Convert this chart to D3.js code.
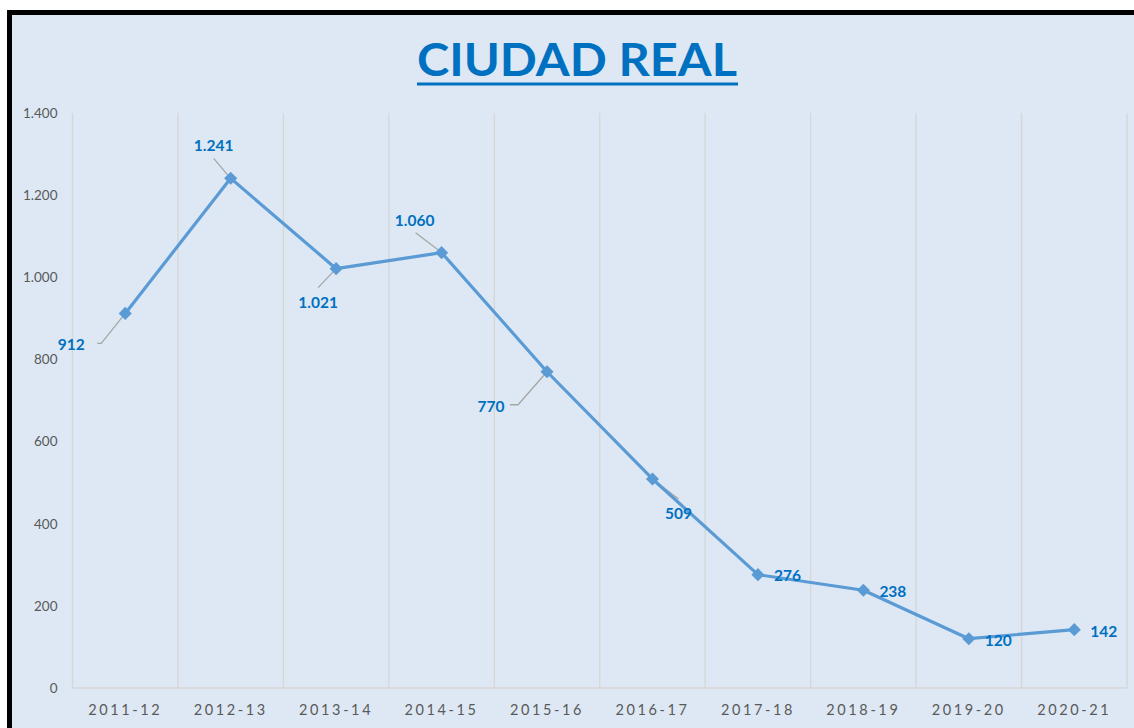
<!DOCTYPE html>
<html><head><meta charset="utf-8">
<script src="https://cdn.jsdelivr.net/npm/d3@7"></script>
<style>
html,body{margin:0;padding:0;background:#fff;}
svg{display:block;}
</style></head>
<body>
<svg id="chart" width="1134" height="728"></svg>
<script>
const categories = ["2011-12","2012-13","2013-14","2014-15","2015-16","2016-17","2017-18","2018-19","2019-20","2020-21"];
const values = [912,1241,1021,1060,770,509,276,238,120,142];
const yTicks = [0,200,400,600,800,1000,1200,1400];
const title = "CIUDAD REAL";

// label placement (style only): offset of label centre from point, and leader line flag
const labelOffsets = [
  {dx:-54, dy:31, anchor:"middle", leader:[[-28,30],[-24,30],[0,0]]},
  {dx:-17, dy:-33, anchor:"middle", leader:[[-17,-20],[-1,-1]]},
  {dx:-18, dy:34, anchor:"middle", leader:[[-18,19],[0,0]]},
  {dx:-27, dy:-32, anchor:"middle", leader:[[-26,-20],[-1,-1]]},
  {dx:-56, dy:35, anchor:"middle", leader:[[-37,33],[-29,33],[0,0]]},
  {dx:26, dy:35, anchor:"middle", leader:[[0,0],[26,20]]},
  {dx:16, dy:1, anchor:"start", leader:null},
  {dx:16, dy:1, anchor:"start", leader:null},
  {dx:16, dy:2, anchor:"start", leader:null},
  {dx:16, dy:2, anchor:"start", leader:null}
];

const svg = d3.select("#chart");
// frame
svg.append("rect").attr("x",9.5).attr("y",12.5).attr("width",1134).attr("height",730)
  .attr("fill","#dde8f4").attr("stroke","#000").attr("stroke-width",5);

const m = {left:72.5, right:1127, top:113, bottom:688};
const x = d3.scaleBand().domain(categories).range([m.left, m.right]);
const y = d3.scaleLinear().domain([0,1400]).range([m.bottom, m.top]);
const fmt = v => d3.format(",")(v).replace(/,/g,".");

// title
const t = svg.append("text").attr("x",577).attr("y",76).attr("text-anchor","middle")
  .attr("font-family","Lato, 'Open Sans', sans-serif").attr("font-weight","bold")
  .attr("font-size",45).attr("fill","#0070c0").attr("textLength",320).attr("lengthAdjust","spacingAndGlyphs")
  .text(title);
svg.append("rect").attr("x",417).attr("y",82.5).attr("width",321).attr("height",3).attr("fill","#0070c0");

// vertical gridlines at category boundaries
const bounds = categories.map(c => x(c)).concat([m.right]);
svg.append("g").selectAll("line").data(bounds).join("line")
  .attr("x1",d=>d).attr("x2",d=>d).attr("y1",m.top).attr("y2",m.bottom)
  .attr("stroke","#d6d6d6").attr("stroke-width",1.3);
// baseline
svg.append("line").attr("x1",m.left).attr("x2",m.right).attr("y1",m.bottom).attr("y2",m.bottom)
  .attr("stroke","#d6d6d6").attr("stroke-width",1.5);

// y axis
const yAxis = d3.axisLeft(y).tickValues(yTicks).tickFormat(fmt).tickSize(0).tickPadding(15);
const gy = svg.append("g").attr("transform",`translate(${m.left},0)`).call(yAxis);
gy.select(".domain").remove();
gy.selectAll("text").attr("font-family","Lato, 'Open Sans', sans-serif").attr("font-size",13.5).attr("fill","#595959");

// x axis
const xAxis = d3.axisBottom(x).tickSize(0).tickPadding(17);
const gx = svg.append("g").attr("transform",`translate(0,${m.bottom})`).call(xAxis);
gx.select(".domain").remove();
gx.selectAll("text").attr("font-family","Lato, 'Open Sans', sans-serif").attr("font-size",14.5)
  .attr("fill","#595959").attr("letter-spacing","2.6px");

const px = (d,i) => x(categories[i]) + x.bandwidth()/2;
const pts = values.map((v,i)=>[px(v,i), y(v)]);

// leaders
labelOffsets.forEach((o,i)=>{
  if(!o.leader) return;
  const [cx,cy] = pts[i];
  svg.append("polyline").attr("points", o.leader.map(p=>[cx+p[0],cy+p[1]].join(",")).join(" "))
    .attr("fill","none").attr("stroke","#a6a6a6").attr("stroke-width",1.3);
});

// line
svg.append("path").datum(values).attr("d", d3.line().x((d,i)=>px(d,i)).y(d=>y(d)))
  .attr("fill","none").attr("stroke","#5b9bd5").attr("stroke-width",3.2).attr("stroke-linejoin","round");

// markers
svg.append("g").selectAll("path").data(values).join("path")
  .attr("d", d3.symbol(d3.symbolDiamond2 || d3.symbolDiamond, 110))
  .attr("transform",(d,i)=>`translate(${px(d,i)},${y(d)}) rotate(0)`)
  .attr("fill","#5b9bd5");

// labels
svg.append("g").selectAll("text").data(values).join("text")
  .attr("x",(d,i)=>pts[i][0]+labelOffsets[i].dx)
  .attr("y",(d,i)=>pts[i][1]+labelOffsets[i].dy)
  .attr("dy","0.35em")
  .attr("text-anchor",(d,i)=>labelOffsets[i].anchor)
  .attr("font-family","Lato, 'Open Sans', sans-serif").attr("font-weight","bold")
  .attr("font-size",15.5).attr("fill","#0070c0")
  .text(d=>fmt(d));
</script>
</body></html>
